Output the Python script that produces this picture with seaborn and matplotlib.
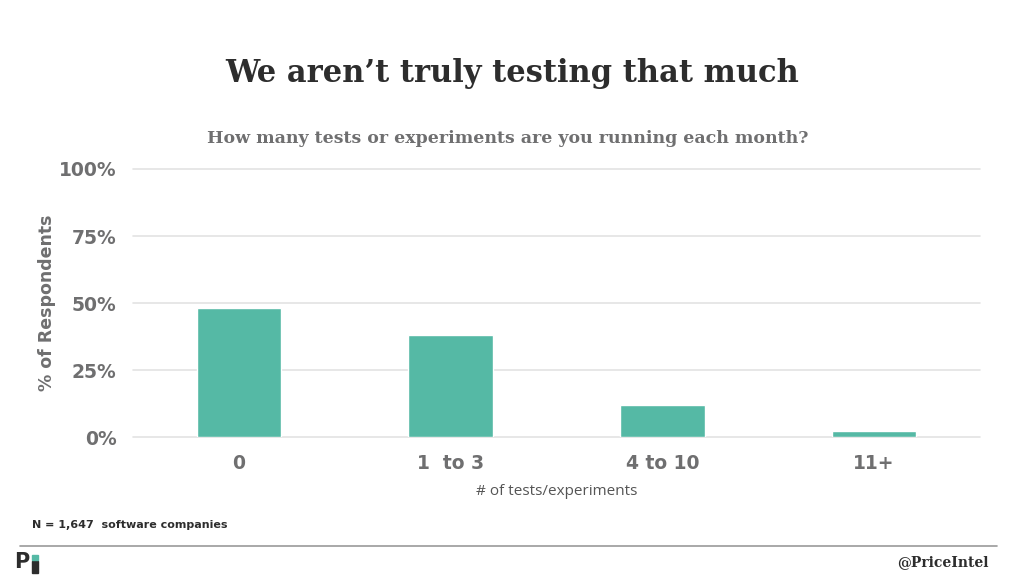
import seaborn as sns
import matplotlib.pyplot as plt
import pandas as pd
from matplotlib.lines import Line2D
from matplotlib.patches import Rectangle

# data
categories = ['0', '1  to 3', '4 to 10', '11+']
pct_respondents = [48, 38, 12, 2.4]
y_ticks = [0, 25, 50, 75, 100]
y_tick_labels = ['0%', '25%', '50%', '75%', '100%']

df = pd.DataFrame({'tests': categories, 'pct': pct_respondents})

sns.set_style('white')
plt.rcParams['font.family'] = ['DejaVu Sans']

TEAL = '#55b9a5'
GREY = '#6f6f70'
DARK = '#2d2d2d'

fig = plt.figure(figsize=(10.24, 5.76), dpi=100)
ax = fig.add_axes([0.13, 0.2413, 0.827, 0.4653])

sns.barplot(data=df, x='tests', y='pct', color=TEAL, width=0.4,
            saturation=1, ax=ax, zorder=3)

ax.set_ylim(0, 100)
ax.set_yticks(y_ticks)
ax.set_yticklabels(y_tick_labels)
ax.yaxis.grid(True, color='#e3e3e3', linewidth=1.2, zorder=0)
for gl in ax.yaxis.get_gridlines():
    gl.set_clip_on(False)
ax.set_axisbelow(True)
sns.despine(ax=ax, left=True, bottom=True)
ax.tick_params(axis='both', length=0, colors=GREY, labelsize=13.5)
ax.tick_params(axis='y', pad=12)
ax.tick_params(axis='x', pad=12)
for lbl in ax.get_xticklabels() + ax.get_yticklabels():
    lbl.set_fontweight('heavy')

ax.set_xlabel('# of tests/experiments', family='Open Sans', fontsize=11,
              color='#555555', labelpad=8)
ax.set_ylabel('% of Respondents', fontsize=12.5, fontweight='bold',
              color=GREY, labelpad=2)

# titles
fig.text(0.5, 0.873, 'We aren\u2019t truly testing that much', ha='center',
         va='center', family='DejaVu Serif', fontweight='heavy',
         fontsize=22, color=DARK)
fig.text(0.496, 0.760, 'How many tests or experiments are you running each month?',
         ha='center', va='center', family='DejaVu Serif', fontweight='bold',
         fontsize=12.5, color=GREY)

# footer
fig.text(0.031, 0.088, 'N = 1,647  software companies', ha='left', va='center',
         fontsize=8, fontweight='bold', color=DARK)
fig.add_artist(Line2D([0.02, 0.974], [0.052, 0.052], color='#9a9a9a',
                      linewidth=1.2, transform=fig.transFigure))
fig.text(0.965, 0.024, '@PriceIntel', ha='right', va='center',
         family='DejaVu Serif', fontsize=10, fontweight='bold', color=DARK)

# small logo
fig.text(0.014, 0.024, 'P', ha='left', va='center', fontsize=15,
         fontweight='heavy', color=DARK)
fig.add_artist(Rectangle((0.031, 0.006), 0.006, 0.02, color=DARK,
                         transform=fig.transFigure))
fig.add_artist(Rectangle((0.031, 0.028), 0.006, 0.008, color=TEAL,
                         transform=fig.transFigure))

fig.savefig('out.png', dpi=100)
